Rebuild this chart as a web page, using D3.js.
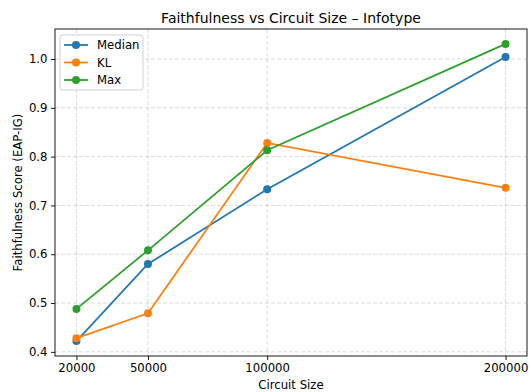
<!DOCTYPE html>
<html><head><meta charset="utf-8">
<script src="https://cdn.jsdelivr.net/npm/d3@7"></script>
<style>body{margin:0;background:#fff}svg{display:block}text{font-family:"DejaVu Sans",sans-serif}</style>
</head><body>
<script>
const sizes = [20000, 50000, 100000, 200000];
const medianVals = [0.422, 0.580, 0.733, 1.004];
const klVals = [0.428, 0.479, 0.828, 0.736];
const maxVals = [0.488, 0.608, 0.813, 1.031];
const seriesNames = ["Median", "KL", "Max"];
const colors = ["#1f77b4", "#ff7f0e", "#2ca02c"];
const yTicks = [0.4, 0.5, 0.6, 0.7, 0.8, 0.9, 1.0];

const W = 532, H = 392;
const m = {l: 55, r: 5, t: 29, b: 36};
const FS = 11.7;
const svg = d3.select("body").append("svg").attr("width", W).attr("height", H);
const x = d3.scaleLinear().domain([11000, 209000]).range([m.l, W - m.r]);
const y = d3.scaleLinear().domain([0.3915, 1.0615]).range([H - m.b, m.t]);

// grid
const g = svg.append("g");
g.selectAll(".gx").data(sizes).join("line")
  .attr("x1", d => x(d)).attr("x2", d => x(d)).attr("y1", m.t).attr("y2", H - m.b)
  .attr("stroke", "#b0b0b0").attr("stroke-opacity", 0.5).attr("stroke-dasharray", "4,2").attr("stroke-width", 0.9);
g.selectAll(".gy").data(yTicks).join("line")
  .attr("y1", d => y(d)).attr("y2", d => y(d)).attr("x1", m.l).attr("x2", W - m.r)
  .attr("stroke", "#b0b0b0").attr("stroke-opacity", 0.5).attr("stroke-dasharray", "4,2").attr("stroke-width", 0.9);

// axes
const xa = svg.append("g").attr("transform", `translate(0,${H - m.b})`)
  .call(d3.axisBottom(x).tickValues(sizes).tickFormat(d3.format("d")).tickSizeOuter(0).tickSize(4).tickPadding(3.5));
const ya = svg.append("g").attr("transform", `translate(${m.l},0)`)
  .call(d3.axisLeft(y).tickValues(yTicks).tickFormat(d3.format(".1f")).tickSizeOuter(0).tickSize(4).tickPadding(3.5));
[xa, ya].forEach(a => {
  a.select(".domain").remove();
  a.selectAll("text").attr("font-size", FS).attr("fill", "#000").style("font-family", "DejaVu Sans");
  a.selectAll("line").attr("stroke", "#000").attr("stroke-width", 0.9);
});
svg.append("rect").attr("x", m.l).attr("y", m.t).attr("width", W - m.r - m.l).attr("height", H - m.b - m.t)
  .attr("fill", "none").attr("stroke", "#000").attr("stroke-width", 0.9);

// series
const allVals = [medianVals, klVals, maxVals];
const line = d3.line().x((d, i) => x(sizes[i])).y(d => y(d));
allVals.forEach((vals, k) => {
  svg.append("path").datum(vals).attr("d", line).attr("fill", "none")
    .attr("stroke", colors[k]).attr("stroke-width", 1.75);
  svg.selectAll(null).data(vals).join("circle")
    .attr("cx", (d, i) => x(sizes[i])).attr("cy", d => y(d)).attr("r", 4).attr("fill", colors[k]);
});

// title and labels
svg.append("text").attr("x", (m.l + W - m.r) / 2).attr("y", 23).attr("text-anchor", "middle")
  .attr("font-size", 14).text("Faithfulness vs Circuit Size – Infotype");
svg.append("text").attr("x", (m.l + W - m.r) / 2).attr("y", 389).attr("text-anchor", "middle")
  .attr("font-size", FS).text("Circuit Size");
svg.append("text").attr("transform", `translate(22,${(m.t + H - m.b) / 2}) rotate(-90)`).attr("text-anchor", "middle")
  .attr("font-size", FS).text("Faithfulness Score (EAP-IG)");

// legend
const lg = svg.append("g").attr("transform", `translate(${m.l + 5},${m.t + 6})`);
lg.append("rect").attr("width", 83).attr("height", 55).attr("rx", 2.5)
  .attr("fill", "#fff").attr("fill-opacity", 0.8).attr("stroke", "#ccc").attr("stroke-width", 0.9);
seriesNames.forEach((n, k) => {
  const yy = 10 + k * 17.5;
  lg.append("line").attr("x1", 4).attr("x2", 28).attr("y1", yy).attr("y2", yy).attr("stroke", colors[k]).attr("stroke-width", 1.75);
  lg.append("circle").attr("cx", 16).attr("cy", yy).attr("r", 4).attr("fill", colors[k]);
  lg.append("text").attr("x", 37).attr("y", yy + 4.2).attr("font-size", FS).text(n);
});
</script>
</body></html>
